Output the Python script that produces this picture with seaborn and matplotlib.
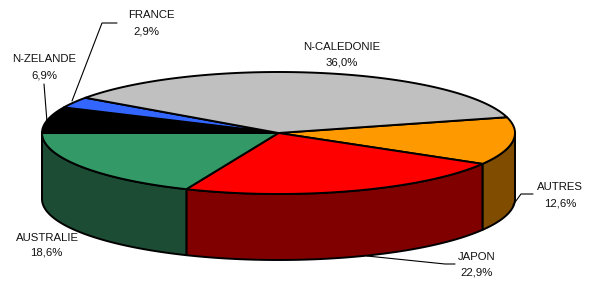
import numpy as np
import matplotlib
matplotlib.use("Agg")
import matplotlib.pyplot as plt
import seaborn as sns
from matplotlib.patches import Polygon

# ---- data ----
labels = ["AUTRES", "JAPON", "AUSTRALIE", "N-ZELANDE", "FRANCE", "N-CALEDONIE"]
values = [12.6, 22.9, 18.6, 6.9, 2.9, 36.0]
pct_text = ["12,6%", "22,9%", "18,6%", "6,9%", "2,9%", "36,0%"]

top_colors = ["#FF9900", "#FF0000", "#339966", "#000000", "#3366FF", "#C0C0C0"]
side_colors = ["#804C00", "#800000", "#1C4C34", "#000000", "#1A3380", "#606060"]

sns.set_theme(style="white")
plt.rcParams["font.family"] = ["Liberation Sans", "DejaVu Sans"]

fig = plt.figure(figsize=(5.91, 2.88), dpi=100)
ax = fig.add_axes([0, 0, 1, 1])
ax.set_xlim(0, 591)
ax.set_ylim(288, 0)
ax.axis("off")

cx, cy, rx, ry, depth = 278.5, 133, 236.5, 61, 66
start = 15
frac = np.array(values) / np.sum(values)
bounds = start - 360 * np.concatenate([[0], np.cumsum(frac)])


def arc(a_from, a_to, dz=0, n=120):
    a = np.deg2rad(np.linspace(a_from, a_to, n))
    return np.column_stack([cx + rx * np.cos(a), cy - ry * np.sin(a) + dz])


edge_kw = dict(edgecolor="black", linewidth=1.4, joinstyle="round")

# sides (front half only: angles between -180 and 0)
for i in range(len(values)):
    hi, lo = bounds[i], bounds[i + 1]
    s_lo, s_hi = max(lo, -180), min(hi, 0)
    if s_hi > s_lo:
        topa = arc(s_hi, s_lo)
        bota = arc(s_lo, s_hi, dz=depth)
        ax.add_patch(Polygon(np.vstack([topa, bota]), closed=True,
                             facecolor=side_colors[i], zorder=1, **edge_kw))

# top faces
for i in range(len(values)):
    hi, lo = bounds[i], bounds[i + 1]
    pts = np.vstack([[cx, cy], arc(hi, lo)])
    ax.add_patch(Polygon(pts, closed=True, facecolor=top_colors[i],
                         zorder=2, **edge_kw))

# labels (name line, percent line)
label_pos = {
    "AUTRES": ((560, 186), (560, 202)),
    "JAPON": ((477, 256), (477, 271)),
    "AUSTRALIE": ((47, 237), (46, 251)),
    "N-ZELANDE": ((44, 58), (44, 74)),
    "FRANCE": ((151, 14), (146, 30)),
    "N-CALEDONIE": ((342, 46), (342, 61)),
}
fs = 8.2
for lab, pct in zip(labels, pct_text):
    (x1, y1), (x2, y2) = label_pos[lab]
    ax.text(x1, y1 + 4.2, lab, ha="center", va="baseline", fontsize=fs,
            color="#111111", zorder=5)
    ax.text(x2, y2 + 4.2, pct, ha="center", va="baseline", fontsize=fs,
            color="#111111", zorder=5)

# leader lines
leaders = [
    [(533, 194), (521, 194), (513, 205)],
    [(455, 264), (445, 264), (367, 256)],
    [(44, 84), (47, 122)],
    [(117, 23), (102, 23), (72, 101)],
]
for ln in leaders:
    xs, ys = zip(*ln)
    ax.plot(xs, ys, color="black", lw=0.8, zorder=4)

fig.savefig("out.png", dpi=100)
